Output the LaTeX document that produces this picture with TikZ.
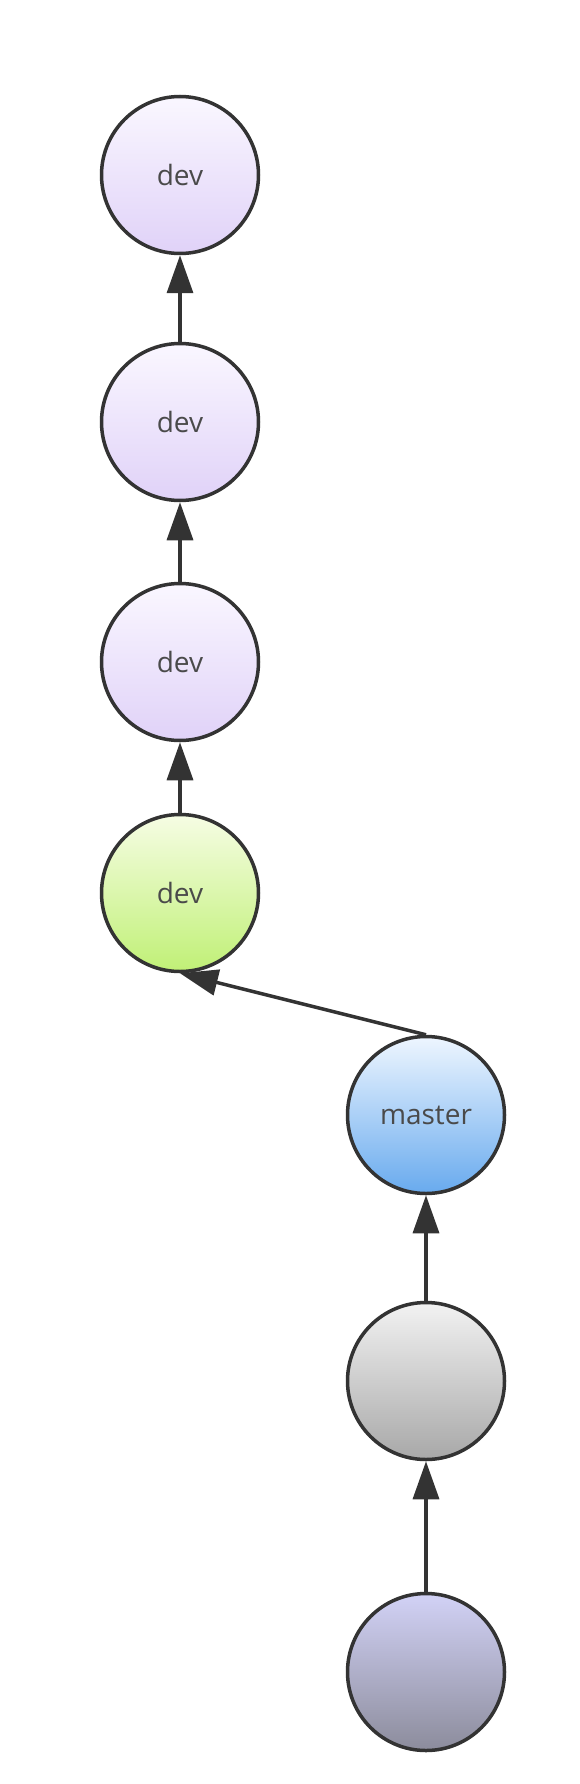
\documentclass[tikz,border=0pt]{standalone}
\usepackage{fontspec}
\setmainfont{Open Sans}
\usetikzlibrary{arrows.meta}

\definecolor{lineGray}{HTML}{333333}
\definecolor{textGray}{HTML}{4A4A4A}

\tikzset{
    commit/.style={circle, draw=lineGray, line width=3.5pt, minimum size=157pt,
        inner sep=0pt, text=textGray, font=\fontsize{28}{34}\selectfont},
    devc/.style={commit, top color={rgb,255:red,250;green,247;blue,255}, bottom color={rgb,255:red,224;green,210;blue,248}},
    headc/.style={commit, top color={rgb,255:red,246;green,253;blue,228}, bottom color={rgb,255:red,192;green,240;blue,118}},
    masterc/.style={commit, top color={rgb,255:red,238;green,246;blue,255}, bottom color={rgb,255:red,104;green,170;blue,238}},
    grayc/.style={commit, top color={rgb,255:red,242;green,242;blue,242}, bottom color={rgb,255:red,168;green,168;blue,168}},
    basec/.style={commit, top color={rgb,255:red,210;green,210;blue,246}, bottom color={rgb,255:red,140;green,140;blue,156}},
    parent/.style={draw=lineGray, line width=3.5pt, -{Triangle[length=38pt, width=26pt]}}
}

\begin{document}
\begin{tikzpicture}[x=1pt, y=-1pt]
        \useasboundingbox (0, 0) rectangle (580, 1784);

        \node[devc] (d1) at (180, 175) {dev};
        \node[devc] (d2) at (180, 422) {dev};
        \node[devc] (d3) at (180, 662) {dev};
        \node[headc] (d4) at (180, 893) {dev};

        \node[masterc] (m) at (426, 1115) {master};
        \node[grayc] (c1) at (426, 1381) {};
        \node[basec] (c0) at (426, 1672) {};

        \draw[parent] (d2) to (d1);
        \draw[parent] (d3) to (d2);
        \draw[parent] (d4) to (d3);
        \draw[parent] (m.north) to (d4.south);

        \draw[parent] (c1) to (m);
        \draw[parent] (c0) to (c1);
    \end{tikzpicture}
\end{document}
